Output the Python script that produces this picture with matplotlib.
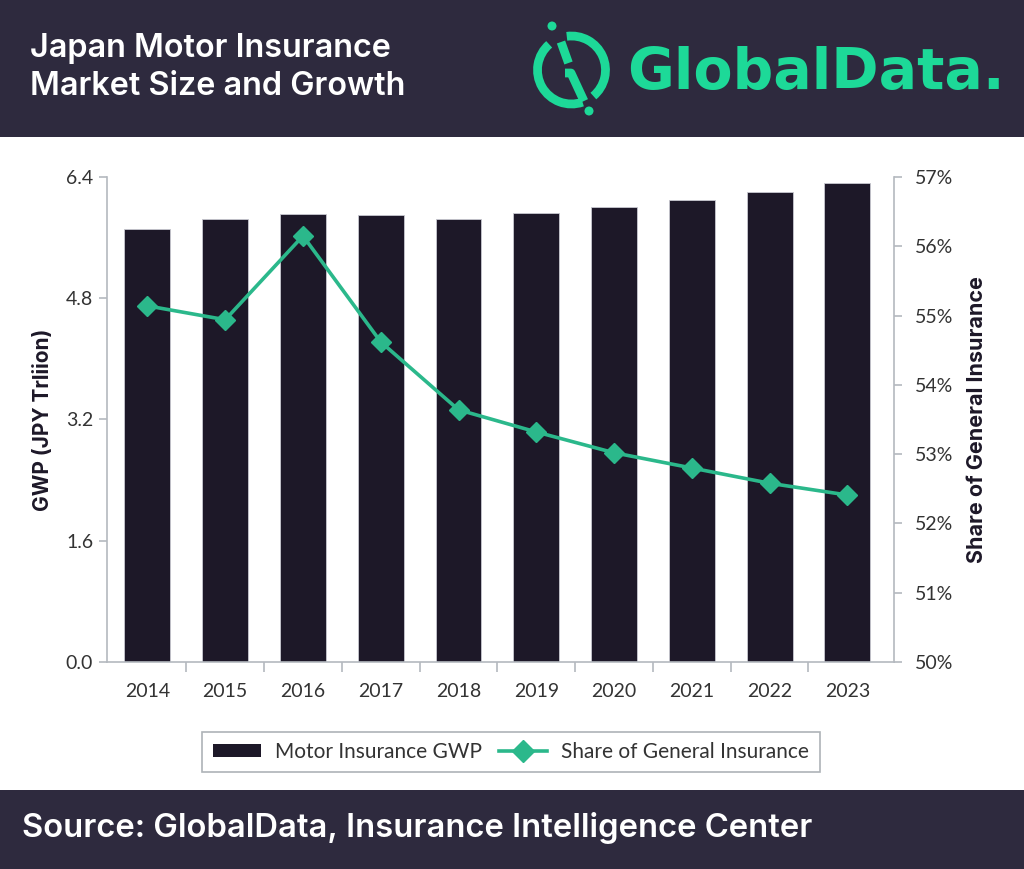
import matplotlib.pyplot as plt
from matplotlib.patches import Rectangle, Arc, Circle
from matplotlib.lines import Line2D
from matplotlib.ticker import FixedLocator, FuncFormatter
import numpy as np

plt.rcParams['font.family'] = ['Lato', 'DejaVu Sans']

# data
years = ['2014', '2015', '2016', '2017', '2018', '2019', '2020', '2021', '2022', '2023']
gwp = [5.71, 5.84, 5.91, 5.90, 5.85, 5.92, 6.00, 6.10, 6.20, 6.32]
share = [55.14, 54.94, 56.15, 54.62, 53.64, 53.32, 53.02, 52.80, 52.58, 52.41]
left_ticks = [0.0, 1.6, 3.2, 4.8, 6.4]
right_ticks = [50, 51, 52, 53, 54, 55, 56, 57]

DARK = '#2e2a3e'
BAR = '#1d1828'
GREEN = '#2bb88b'
LOGO = '#1dd998'
SPINE = '#b4b9bf'
TXT = '#333333'
HEAD = ['Inter', 'DejaVu Sans']

fig = plt.figure(figsize=(10.24, 8.69), dpi=100)

# header / footer bands
fig.patches.append(Rectangle((0, 1 - 137 / 869), 1, 137 / 869, transform=fig.transFigure,
                             facecolor=DARK, edgecolor='none', zorder=-5))
fig.patches.append(Rectangle((0, 0), 1, 79 / 869, transform=fig.transFigure,
                             facecolor=DARK, edgecolor='none', zorder=-5))

fig.text(30 / 1024, 1 - 57 / 869, 'Japan Motor Insurance', color='white', fontsize=23.3,
         fontweight='semibold', family=HEAD, va='baseline', ha='left')
fig.text(30 / 1024, 1 - 95 / 869, 'Market Size and Growth', color='white', fontsize=23.3,
         fontweight='semibold', family=HEAD, va='baseline', ha='left')
fig.text(22 / 1024, 1 - 837 / 869, 'Source: GlobalData, Insurance Intelligence Center', color='white',
         fontsize=23.6, fontweight='semibold', family=HEAD, va='baseline', ha='left')

# logo text
fig.text(627 / 1024, 1 - 89 / 869, 'GlobalData.', color=LOGO, fontsize=41,
         family=['DejaVu Sans'], fontweight='bold', va='baseline', ha='left')

# logo icon (pixel coords, y negated)
lax = fig.add_axes([520 / 1024, 1 - 125 / 869, 105 / 1024, 115 / 869], zorder=2)
lax.set_xlim(520, 625)
lax.set_ylim(-125, -10)
lax.set_aspect('equal')
lax.axis('off')
cx, cy, r = 571.5, -70, 34
lax.add_patch(Arc((cx, cy), 2 * r, 2 * r, theta1=131, theta2=289, color=LOGO, lw=6.3))
lax.add_patch(Arc((cx, cy), 2 * r, 2 * r, theta1=310, theta2=458, color=LOGO, lw=6.3))
lax.plot([561, 568.5], [-42, -63], color=LOGO, lw=6.3, solid_capstyle='butt')
lax.plot([565, 571, 584], [-73, -73, -101], color=LOGO, lw=6.3, solid_capstyle='butt')
lax.add_patch(Circle((552, -26), 4.5, color=LOGO, lw=0))
lax.add_patch(Circle((589, -111), 4.5, color=LOGO, lw=0))

# main chart
ax = fig.add_axes([107 / 1024, 1 - 662 / 869, (894 - 107) / 1024, (662 - 177) / 869])
x = np.arange(len(years))
ax.bar(x, gwp, width=0.59, color=BAR, edgecolor='#c8c8d0', linewidth=0.6, zorder=2)
ax.set_xlim(-0.52, 9.6)
ax.set_ylim(0, 6.4)
ax.yaxis.set_major_locator(FixedLocator(left_ticks))
ax.yaxis.set_major_formatter(FuncFormatter(lambda v, p: f'{v:.1f}'))
ax.set_xticks(x)
ax.set_xticklabels(years)
ax.set_xticks(np.arange(0.5, 9.5, 1), minor=True)
ax.tick_params(axis='x', which='major', length=0, pad=15, labelsize=14, labelcolor=TXT)
ax.tick_params(axis='x', which='minor', length=7, color=SPINE, width=1.2)
ax.tick_params(axis='y', which='major', length=6, color=SPINE, width=1.2, labelsize=14,
               labelcolor=TXT, pad=4)
ax.set_ylabel('GWP (JPY Trliion)', fontsize=15, fontweight='bold', color=BAR, labelpad=9,
              family=HEAD)
for s in ['left', 'bottom']:
    ax.spines[s].set_color(SPINE)
    ax.spines[s].set_linewidth(1.2)
for s in ['top', 'right']:
    ax.spines[s].set_visible(False)

ax2 = ax.twinx()
ax2.plot(x, share, color=GREEN, lw=2.6, marker='D', markersize=10, zorder=3)
ax2.set_ylim(50, 57)
ax2.yaxis.set_major_locator(FixedLocator(right_ticks))
ax2.yaxis.set_major_formatter(FuncFormatter(lambda v, p: f'{v:.0f}%'))
ax2.tick_params(axis='y', length=6, color=SPINE, width=1.2, labelsize=14, labelcolor=TXT, pad=9)
ax2.set_ylabel('Share of General Insurance', fontsize=15.5, fontweight='bold', color=BAR,
               labelpad=10, family=HEAD)
for s in ['left', 'bottom', 'top']:
    ax2.spines[s].set_visible(False)
ax2.spines['right'].set_color(SPINE)
ax2.spines['right'].set_linewidth(1.2)

handles = [Rectangle((0, 0), 1, 1, facecolor=BAR, edgecolor='none'),
           Line2D([], [], color=GREEN, lw=2.6, marker='D', markersize=11)]
leg = fig.legend(handles, ['Motor Insurance GWP', 'Share of General Insurance'], ncol=2,
                 loc='center', bbox_to_anchor=(511 / 1024, 1 - 752 / 869), fontsize=15,
                 frameon=True, fancybox=False, edgecolor='#9aa0a6', handlelength=2.3,
                 handleheight=0.6, columnspacing=0.8, handletextpad=0.7, borderpad=0.5)
leg.get_frame().set_linewidth(1.2)
for t in leg.get_texts():
    t.set_color(TXT)

fig.savefig('out.png', dpi=100)
